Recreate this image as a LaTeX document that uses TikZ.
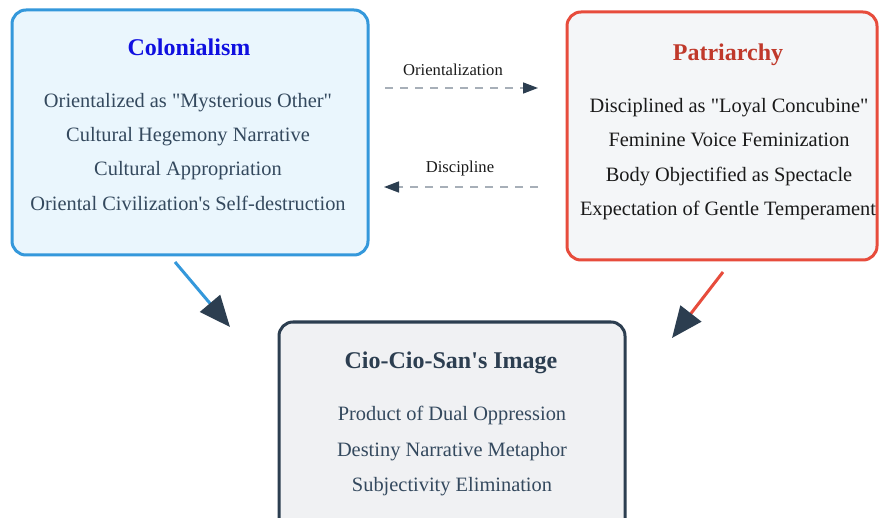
\documentclass[tikz,border=0pt]{standalone}
\usepackage{fontspec}
\setmainfont{Liberation Serif}[Ligatures=TeXOff]
\usetikzlibrary{arrows.meta}
\definecolor{cblue}{HTML}{3498DB}
\definecolor{cbluefill}{HTML}{EAF6FD}
\definecolor{ctitleblue}{HTML}{1010E0}
\definecolor{cslate}{HTML}{34495E}
\definecolor{cred}{HTML}{E74C3C}
\definecolor{credtitle}{HTML}{C0392B}
\definecolor{cgrayfill}{HTML}{F4F6F8}
\definecolor{cnavy}{HTML}{2C3E50}
\definecolor{cbotfill}{HTML}{F0F1F3}
\definecolor{cdash}{HTML}{A7AFB8}
\definecolor{ctext}{HTML}{1A1A1A}
\tikzset{
  x=1pt, y=1pt,
  panel/.style={rounded corners=14pt, line width=3pt},
  title/.style={font=\fontsize{24}{28}\selectfont\bfseries, text height=17pt, text depth=5pt, inner sep=0pt},
  item/.style={font=\fontsize{20.4}{24}\selectfont, text height=14pt, text depth=4pt, inner sep=0pt},
  lbl/.style={font=\fontsize{16.6}{20}\selectfont, text=ctext, text height=11pt, text depth=3pt, inner sep=0pt},
  dasharrow/.style={draw=cdash, line width=1.5pt, dash pattern=on 8pt off 7pt, -{Triangle[length=15pt,width=11pt,color=cnavy]}},
  bigarrow/.style={line width=3pt, -{Triangle[length=31pt,width=26pt,color=cnavy]}}
}
\begin{document}
\begin{tikzpicture}
\useasboundingbox (0,0) rectangle (880,-518);
\clip (0,0) rectangle (880,-518);
\fill[white] (0,0) rectangle (880,-518);
% boxes
\draw[panel, draw=cblue, fill=cbluefill] (12,-10) rectangle (368,-255);
\node (colbox) at (190,-132.5) {};
\draw[panel, draw=cred, fill=cgrayfill] (567,-12) rectangle (877,-260);
\node (patbox) at (722,-136) {};
\draw[panel, draw=cnavy, fill=cbotfill] (279,-322) rectangle (625,-540);
\node (botbox) at (452,-430) {};
% Colonialism
\node[title, text=ctitleblue] (colt) at (189,-50) {Colonialism};
\node[item, text=cslate] (col1) at (188,-103) {Orientalized as "Mysterious Other"};
\node[item, text=cslate] (col2) at (188,-137) {Cultural Hegemony Narrative};
\node[item, text=cslate] (col3) at (188,-171) {Cultural Appropriation};
\node[item, text=cslate] (col4) at (188,-206) {Oriental Civilization's Self-destruction};
% Patriarchy
\node[title, text=credtitle] (patt) at (728,-55) {Patriarchy};
\node[item, text=ctext] (pat1) at (729,-108) {Disciplined as "Loyal Concubine"};
\node[item, text=ctext] (pat2) at (729,-142) {Feminine Voice Feminization};
\node[item, text=ctext] (pat3) at (729,-177) {Body Objectified as Spectacle};
\node[item, text=ctext] (pat4) at (728,-211) {Expectation of Gentle Temperament};
% Bottom
\node[title, text=cnavy] (bott) at (451,-362) {Cio-Cio-San's Image};
\node[item, text=cslate] (bot1) at (452,-415) {Product of Dual Oppression};
\node[item, text=cslate] (bot2) at (452,-451) {Destiny Narrative Metaphor};
\node[item, text=cslate] (bot3) at (452,-486) {Subjectivity Elimination};
% middle arrows
\node[lbl] (orl) at (453,-72) {Orientalization};
\coordinate (or1) at (385,-88);
\coordinate (or2) at (538,-88);
\draw[dasharrow] (or1) -- (or2);
\node[lbl] (dil) at (460,-169) {Discipline};
\coordinate (di1) at (538,-187);
\coordinate (di2) at (384,-187);
\draw[dasharrow] (di1) -- (di2);
% diagonal arrows
\coordinate (ba1) at (175,-262);
\coordinate (ba2) at (230,-327);
\draw[bigarrow, draw=cblue] (ba1) -- (ba2);
\coordinate (ra1) at (723,-272);
\coordinate (ra2) at (672,-338);
\draw[bigarrow, draw=cred] (ra1) -- (ra2);
\end{tikzpicture}
\end{document}
